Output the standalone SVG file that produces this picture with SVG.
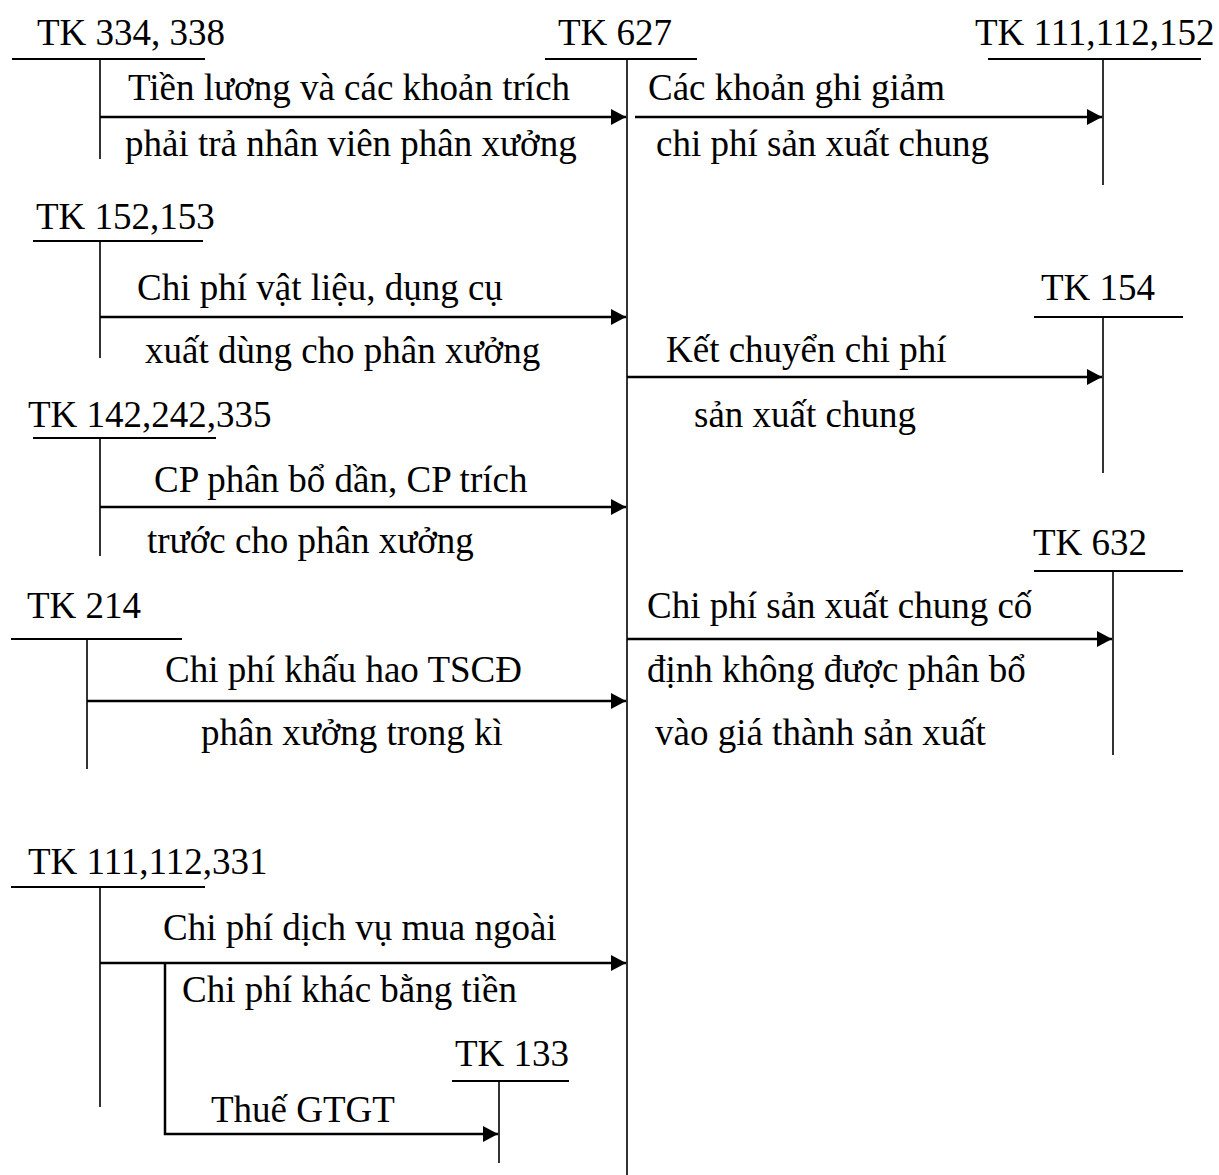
<svg xmlns="http://www.w3.org/2000/svg" width="1219" height="1175" viewBox="0 0 1219 1175">
<style>
text{font-family:"Liberation Serif","Times New Roman",serif;font-size:37px;fill:#000}
.h{stroke:#000;stroke-width:2;fill:none}
.v{stroke:#000;stroke-width:1.6;fill:none}
.a{stroke:#000;stroke-width:2.5;fill:none;marker-end:url(#ah)}
</style>
<defs>
<marker id="ah" viewBox="0 0 15 16" refX="15" refY="8" markerWidth="15" markerHeight="16" markerUnits="userSpaceOnUse" orient="auto">
<path d="M0,0 L15,8 L0,16 z" fill="#000"/>
</marker>
</defs>
<rect width="1219" height="1175" fill="#fff"/>

<g id="tk334">
<text x="37" y="45">TK 334, 338</text>
<line class="h" x1="12" y1="59" x2="205" y2="59"/>
<line class="v" x1="100" y1="59" x2="100" y2="159"/>
</g>
<g id="tk627">
<text x="558" y="45">TK 627</text>
<line class="h" x1="545" y1="59" x2="697" y2="59"/>
<line class="v" x1="627" y1="59" x2="627" y2="1175"/>
</g>
<g id="tk111_112_152">
<text x="975" y="45">TK 111,112,152</text>
<line class="h" x1="988" y1="59" x2="1201" y2="59"/>
<line class="v" x1="1103" y1="59" x2="1103" y2="185"/>
</g>
<g id="tk152_153">
<text x="36" y="229">TK 152,153</text>
<line class="h" x1="33" y1="241" x2="203" y2="241"/>
<line class="v" x1="100" y1="241" x2="100" y2="358"/>
</g>
<g id="tk142_242_335">
<text x="28" y="427">TK 142,242,335</text>
<line class="h" x1="33" y1="438" x2="216" y2="438"/>
<line class="v" x1="100" y1="438" x2="100" y2="556"/>
</g>
<g id="tk214">
<text x="27" y="618">TK 214</text>
<line class="h" x1="11" y1="639" x2="182" y2="639"/>
<line class="v" x1="87" y1="639" x2="87" y2="769"/>
</g>
<g id="tk111_112_331">
<text x="28" y="874">TK 111,112,331</text>
<line class="h" x1="11" y1="887" x2="205" y2="887"/>
<line class="v" x1="100" y1="887" x2="100" y2="1107"/>
</g>
<g id="tk154">
<text x="1041" y="300">TK 154</text>
<line class="h" x1="1034" y1="317" x2="1183" y2="317"/>
<line class="v" x1="1103" y1="317" x2="1103" y2="473"/>
</g>
<g id="tk632">
<text x="1033" y="555">TK 632</text>
<line class="h" x1="1034" y1="571" x2="1183" y2="571"/>
<line class="v" x1="1113" y1="571" x2="1113" y2="755"/>
</g>
<g id="tk133">
<text x="455" y="1066">TK 133</text>
<line class="h" x1="452" y1="1081" x2="569" y2="1081"/>
<line class="v" x1="499" y1="1081" x2="499" y2="1163"/>
</g>

<g id="connectors">
<line class="a" x1="100" y1="117" x2="626" y2="117"/>
<line class="a" x1="635" y1="117" x2="1102" y2="117"/>
<line class="a" x1="100" y1="317" x2="626" y2="317"/>
<line class="a" x1="627" y1="377" x2="1102" y2="377"/>
<line class="a" x1="100" y1="507" x2="626" y2="507"/>
<line class="a" x1="627" y1="639" x2="1112" y2="639"/>
<line class="a" x1="87" y1="701" x2="626" y2="701"/>
<line class="a" x1="100" y1="963" x2="626" y2="963"/>
<polyline class="a" points="165,963 165,1134 498,1134"/>
</g>

<g id="labels">
<text x="128" y="100">Tiền lương và các khoản trích</text>
<text x="125" y="156">phải trả nhân viên phân xưởng</text>
<text x="648" y="100">Các khoản ghi giảm</text>
<text x="656" y="156">chi phí sản xuất chung</text>
<text x="137" y="300">Chi phí vật liệu, dụng cụ</text>
<text x="145" y="363">xuất dùng cho phân xưởng</text>
<text x="666" y="362">Kết chuyển chi phí</text>
<text x="694" y="427">sản xuất chung</text>
<text x="154" y="492">CP phân bổ dần, CP trích</text>
<text x="147" y="553">trước cho phân xưởng</text>
<text x="647" y="618">Chi phí sản xuất chung cố</text>
<text x="647" y="682">định không được phân bổ</text>
<text x="655" y="745">vào giá thành sản xuất</text>
<text x="165" y="682">Chi phí khấu hao TSCĐ</text>
<text x="201" y="745">phân xưởng trong kì</text>
<text x="163" y="940">Chi phí dịch vụ mua ngoài</text>
<text x="182" y="1002">Chi phí khác bằng tiền</text>
<text x="211" y="1122">Thuế GTGT</text>
</g>
</svg>
